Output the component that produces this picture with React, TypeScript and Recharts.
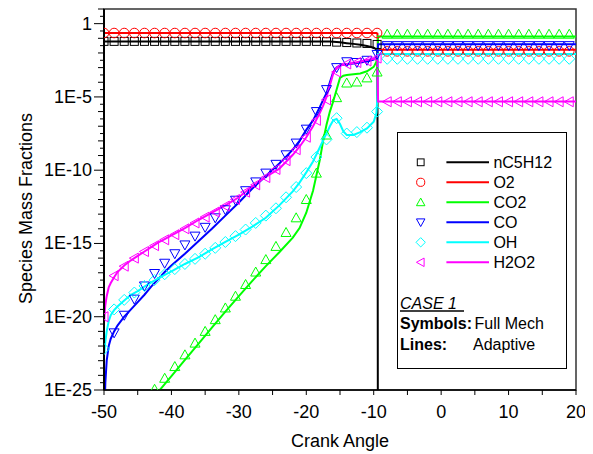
import React from 'react';
import { ComposedChart, Line, Scatter, XAxis, YAxis, ReferenceArea, Label } from 'recharts';

// ---------- data (values are log10 of mass fraction) ----------
const markerX = [-50, -48.5, -47, -45.5, -44, -42.5, -41, -39.5, -38, -36.5, -35, -33.5, -32, -30.5, -29, -27.5, -26, -24.5, -23, -21.5, -20, -18.5, -17, -15.5, -14, -12.5, -11, -9.5, -8, -6.5, -5, -3.5, -2, -0.5, 1, 2.5, 4, 5.5, 7, 8.5, 10, 11.5, 13, 14.5, 16, 17.5, 19];

const N19 = (v: number | null) => [v, v, v, v, v, v, v, v, v, v, v, v, v, v, v, v, v, v, v];

const nc5h12Marks: (number | null)[] = [-1.21, -1.21, -1.21, -1.21, -1.21, -1.21, -1.21, -1.21, -1.21, -1.21, -1.21, -1.21, -1.21, -1.21, -1.21, -1.21, -1.21, -1.21, -1.21, -1.21, -1.21, -1.21, -1.23, -1.26, -1.29, -1.32, -1.35, -1.42, ...N19(null)];
const o2Marks: (number | null)[] = [-0.64, -0.64, -0.64, -0.64, -0.64, -0.64, -0.64, -0.64, -0.64, -0.64, -0.64, -0.64, -0.64, -0.64, -0.64, -0.64, -0.64, -0.64, -0.64, -0.64, -0.64, -0.64, -0.64, -0.64, -0.64, -0.64, -0.64, -0.64, ...N19(-1.89)];
const co2Marks: (number | null)[] = [null, null, null, null, null, -24.95, -24.2, -23.4, -22.6, -21.8, -21.0, -20.2, -19.4, -18.6, -17.8, -16.95, -16.1, -15.2, -14.25, -13.25, -12.0, -10.2, -7.6, -5.05, -4.05, -3.98, -3.7, -3.3, ...N19(-0.72)];
const coMarks: (number | null)[] = [null, -21.1, -19.9, -18.8, -17.9, -17.05, -16.35, -15.7, -15.1, -14.5, -13.9, -13.25, -12.7, -12.05, -11.4, -10.8, -10.2, -9.6, -8.95, -8.15, -7.2, -6.0, -4.5, -3.0, -2.6, -2.65, -2.5, -2.1, ...N19(-1.5)];
const ohMarks: (number | null)[] = [-22.2, -19.5, -18.85, -18.35, -17.9, -17.5, -17.1, -16.75, -16.4, -16.05, -15.7, -15.3, -14.9, -14.5, -14.05, -13.6, -13.1, -12.6, -11.85, -11.15, -10.2, -9.1, -7.9, -6.45, -7.5, -7.4, -7.1, -6.0, ...N19(-2.4)];
const h2o2Marks: (number | null)[] = [-20.0, -17.2, -16.55, -16.0, -15.55, -15.15, -14.75, -14.4, -14.0, -13.6, -13.2, -12.85, -12.45, -12.0, -11.5, -11.0, -10.5, -9.95, -9.35, -8.6, -7.75, -6.6, -5.2, -3.3, -2.75, -2.65, -2.55, -2.35, ...N19(-5.33)];

const lineX = [-50, -49.9, -49.8, -49.6, -49.3, -49, -48.5, -48, -47, -46, -45, -44, -43, -42, -41, -40, -38, -36, -34, -32, -30, -28, -26, -24, -22, -21, -20, -19, -18, -17.5, -17, -16.5, -16, -15.5, -15, -14.5, -14, -13, -12, -11, -10, -9.6, -9.45, -9.35, -8, -5, 0, 5, 10, 15, 20];

const nc5h12Line: (number | null)[] = [-1.21, -1.21, -1.21, -1.21, -1.21, -1.21, -1.21, -1.21, -1.21, -1.21, -1.21, -1.21, -1.21, -1.21, -1.21, -1.21, -1.21, -1.21, -1.21, -1.21, -1.21, -1.21, -1.21, -1.21, -1.21, -1.21, -1.21, -1.21, -1.21, -1.21, -1.21, -1.22, -1.23, -1.25, -1.27, -1.3, -1.33, -1.38, -1.44, -1.52, -1.64, -1.75, -1.95, -40, null, null, null, null, null, null, null];
const o2Line: (number | null)[] = [-0.64, -0.64, -0.64, -0.64, -0.64, -0.64, -0.64, -0.64, -0.64, -0.64, -0.64, -0.64, -0.64, -0.64, -0.64, -0.64, -0.64, -0.64, -0.64, -0.64, -0.64, -0.64, -0.64, -0.64, -0.64, -0.64, -0.64, -0.64, -0.64, -0.64, -0.64, -0.64, -0.64, -0.64, -0.64, -0.64, -0.64, -0.64, -0.64, -0.64, -0.64, -0.64, -0.68, -1.78, -1.78, -1.78, -1.78, -1.78, -1.78, -1.78, -1.78];
const co2Line: (number | null)[] = [null, null, null, null, null, null, null, null, null, null, null, null, -25.7, -25.15, -24.6, -24.05, -22.95, -21.85, -20.75, -19.65, -18.6, -17.55, -16.55, -15.6, -14.6, -13.95, -12.9, -11.4, -9.3, -8.0, -6.9, -6.0, -5.3, -4.5, -3.7, -3.55, -3.5, -3.45, -3.4, -3.25, -2.95, -2.6, -2.1, -0.87, -0.87, -0.87, -0.87, -0.87, -0.87, -0.87, -0.87];
const coLine: (number | null)[] = [-40, -26, -24.5, -23.0, -22.0, -21.5, -21.0, -20.6, -20.0, -19.5, -19.0, -18.5, -17.95, -17.45, -16.95, -16.5, -15.7, -14.85, -14.0, -13.1, -12.2, -11.25, -10.4, -9.55, -8.6, -8.0, -7.25, -6.6, -5.7, -5.2, -4.75, -4.0, -3.3, -3.0, -2.85, -2.8, -2.78, -2.72, -2.65, -2.58, -2.45, -2.3, -2.0, -1.4, -1.4, -1.4, -1.4, -1.4, -1.4, -1.4, -1.4];
const ohLine: (number | null)[] = [-22.6, -22.2, -21.7, -21.0, -20.3, -19.9, -19.55, -19.3, -18.9, -18.5, -18.25, -17.95, -17.65, -17.4, -17.15, -16.9, -16.4, -15.95, -15.4, -14.9, -14.4, -13.85, -13.25, -12.4, -11.45, -10.85, -10.15, -9.4, -8.45, -7.95, -7.5, -7.0, -6.6, -6.5, -6.85, -7.35, -7.6, -7.6, -7.4, -7.15, -6.7, -6.1, -5.0, -2.07, -2.07, -2.07, -2.07, -2.07, -2.07, -2.07, -2.07];
const h2o2Line: (number | null)[] = [-20.5, -19.7, -19.2, -18.6, -18.0, -17.7, -17.3, -16.95, -16.5, -16.15, -15.85, -15.55, -15.25, -14.95, -14.7, -14.45, -13.95, -13.4, -12.9, -12.4, -11.85, -11.1, -10.45, -9.9, -8.95, -8.4, -7.75, -7.0, -6.1, -5.6, -5.0, -4.2, -3.4, -3.0, -2.85, -2.8, -2.75, -2.68, -2.58, -2.48, -2.4, -2.33, -2.3, -5.31, -5.31, -5.31, -5.31, -5.31, -5.31, -5.31, -5.31];

const speciesNames = ['nC5H12', 'O2', 'CO2', 'CO', 'OH', 'H2O2'];
const speciesColors = ['#000000', '#ff0000', '#00ff00', '#0000ff', '#00ffff', '#ff00ff'];
const speciesSymbols = ['square', 'circle', 'up', 'down', 'diamond', 'left'];
const markSets = [nc5h12Marks, o2Marks, co2Marks, coMarks, ohMarks, h2o2Marks];
const lineSets = [nc5h12Line, o2Line, co2Line, coLine, ohLine, h2o2Line];

const xTicks = [-50, -45, -40, -35, -30, -25, -20, -15, -10, -5, 0, 5, 10, 15, 20];
const xLabelTicks = [-50, -40, -30, -20, -10, 0, 10, 20];
const yMajorExps = [-25, -20, -15, -10, -5, 0];

// ---------- layout ----------
const W = 585;
const H = 446;
const PLOT_LEFT = 96;
const PLOT_BOTTOM = 382;
const FONT = '"Liberation Sans", Arial, Helvetica, sans-serif';

const yTickExps: number[] = [];
for (let e = -25; e <= 1.001; e += 0.5) yTickExps.push(Math.round(e * 2) / 2);
const yTicks = yTickExps.map((e) => Math.pow(10, e));

const scatterData = (logs: (number | null)[]) =>
  markerX
    .map((x, i) => (logs[i] == null ? null : { x, y: Math.pow(10, logs[i] as number) }))
    .filter((d) => d !== null) as { x: number; y: number }[];

const lineData = (logs: (number | null)[]) =>
  lineX.map((x, i) => ({ x, y: logs[i] == null ? null : Math.pow(10, logs[i] as number) }));

function Symbol({ cx, cy, kind, color, s = 1 }: { cx: number; cy: number; kind: string; color: string; s?: number }) {
  const common = { fill: 'none', stroke: color, strokeWidth: 1 };
  if (cx == null || cy == null || isNaN(cx) || isNaN(cy)) return null;
  switch (kind) {
    case 'square':
      return <rect x={cx - 4 * s} y={cy - 4 * s} width={8 * s} height={8 * s} {...common} />;
    case 'circle':
      return <circle cx={cx} cy={cy} r={4.8 * s} {...common} />;
    case 'up':
      return <polygon points={`${cx},${cy - 5 * s} ${cx - 5 * s},${cy + 4 * s} ${cx + 5 * s},${cy + 4 * s}`} {...common} />;
    case 'down':
      return <polygon points={`${cx},${cy + 5 * s} ${cx - 5 * s},${cy - 4 * s} ${cx + 5 * s},${cy - 4 * s}`} {...common} />;
    case 'diamond':
      return <polygon points={`${cx},${cy - 5.5 * s} ${cx + 5.5 * s},${cy} ${cx},${cy + 5.5 * s} ${cx - 5.5 * s},${cy}`} {...common} />;
    case 'left':
      return <polygon points={`${cx - 5 * s},${cy} ${cx + 4 * s},${cy - 5 * s} ${cx + 4 * s},${cy + 5 * s}`} {...common} />;
    default:
      return null;
  }
}

const YTick = (props: any) => {
  const { y, payload } = props;
  const e = Math.log10(payload.value);
  const r = Math.round(e);
  const isDecade = Math.abs(e - r) < 1e-6;
  const isMajor = isDecade && yMajorExps.includes(r);
  const len = isMajor ? 10 : isDecade ? 6 : 4;
  const label = r === 0 ? '1' : `1E${r}`;
  return (
    <g>
      <line x1={PLOT_LEFT - len} x2={PLOT_LEFT} y1={y} y2={y} stroke="#000" strokeWidth={1} />
      {isMajor && (
        <text x={PLOT_LEFT - 12} y={y} textAnchor="end" dominantBaseline="central" fontSize={18} fontFamily={FONT} fill="#000">
          {label}
        </text>
      )}
    </g>
  );
};

const XTick = (props: any) => {
  const { x, payload } = props;
  const v = payload.value;
  const isMajor = xLabelTicks.includes(v);
  return (
    <g>
      <line x1={x} x2={x} y1={PLOT_BOTTOM} y2={PLOT_BOTTOM + 5} stroke="#000" strokeWidth={1} />
      {isMajor && (
        <text x={x} y={PLOT_BOTTOM + 28} textAnchor="middle" fontSize={18} fontFamily={FONT} fill="#000">
          {String(v)}
        </text>
      )}
    </g>
  );
};

function LegendBox() {
  const rows = speciesNames.map((name, i) => {
    const cy = 29.3 + i * 20;
    return (
      <g key={name}>
        <Symbol cx={22.7} cy={cy} kind={speciesSymbols[i]} color={speciesColors[i]} s={0.85} />
        <line x1={48.4} x2={91} y1={cy} y2={cy} stroke={speciesColors[i]} strokeWidth={2} />
        <text x={95.4} y={cy + 5.8} fontSize={16} fontFamily={FONT} fill="#000">
          {name}
        </text>
      </g>
    );
  });
  return (
    <div
      style={{
        position: 'absolute',
        left: 389,
        top: 123.5,
        width: 170,
        height: 237,
        border: '1.5px solid #000',
        boxSizing: 'border-box',
        background: '#fff',
      }}
    >
      <svg width={167} height={234} style={{ display: 'block' }}>
        {rows}
        <text x={2} y={175.5} fontSize={16} fontStyle="italic" fontFamily={FONT} fill="#000">
          CASE 1
        </text>
        <line x1={2} x2={66} y1={178} y2={178} stroke="#000" strokeWidth={1.5} />
        <text x={2} y={196} fontSize={16} fontWeight="bold" fontFamily={FONT} fill="#000">
          Symbols:
        </text>
        <text x={76.5} y={196} fontSize={16} fontFamily={FONT} fill="#000">
          Full Mech
        </text>
        <text x={2} y={216.5} fontSize={16} fontWeight="bold" fontFamily={FONT} fill="#000">
          Lines:
        </text>
        <text x={75} y={216.5} fontSize={16} fontFamily={FONT} fill="#000">
          Adaptive
        </text>
      </svg>
    </div>
  );
}

export default function App() {
  return (
    <div style={{ position: 'relative', width: W, height: H, fontFamily: FONT, background: '#fff' }}>
      <ComposedChart width={W} height={H} margin={{ top: 1, right: 17, bottom: 0, left: 0 }}>
        <XAxis
          dataKey="x"
          type="number"
          domain={[-50, 20]}
          ticks={xTicks}
          interval={0}
          allowDataOverflow
          height={64}
          tickLine={false}
          axisLine={{ stroke: '#000', strokeWidth: 1.5 }}
          tick={<XTick />}
        >
          <Label
            content={(p: any) => {
              const vb = p.viewBox || { x: 96, y: 382, width: 472 };
              return (
                <text x={vb.x + vb.width / 2} y={vb.y + 57} textAnchor="middle" fontSize={18} fontFamily={FONT} fill="#000">
                  Crank Angle
                </text>
              );
            }}
          />
        </XAxis>
        <YAxis
          dataKey="y"
          type="number"
          scale="log"
          domain={[1e-25, 10]}
          ticks={yTicks}
          interval={0}
          allowDataOverflow
          width={96}
          tickLine={false}
          axisLine={{ stroke: '#000', strokeWidth: 2 }}
          tick={<YTick />}
        >
          <Label
            content={(p: any) => {
              const vb = p.viewBox || { x: 0, y: 1, height: 381 };
              const cx = 24;
              const cy = vb.y + vb.height / 2 + 9;
              return (
                <text x={cx} y={cy} transform={`rotate(-90 ${cx} ${cy})`} textAnchor="middle" fontSize={18} fontFamily={FONT} fill="#000">
                  Species Mass Fractions
                </text>
              );
            }}
          />
        </YAxis>
        <ReferenceArea x1={-50} x2={20} y1={1e-25} y2={10} fill="none" stroke="#333" strokeWidth={1.5} ifOverflow="visible" />
        {markSets.map((m, i) => (
          <Scatter
            key={'s' + i}
            name={speciesNames[i] + ' full'}
            data={scatterData(m)}
            dataKey="y"
            isAnimationActive={false}
            shape={(p: any) => <Symbol cx={p.cx} cy={p.cy} kind={speciesSymbols[i]} color={speciesColors[i]} />}
          />
        ))}
        {lineSets.map((l, i) => (
          <Line
            key={'l' + i}
            name={speciesNames[i]}
            data={lineData(l)}
            dataKey="y"
            stroke={speciesColors[i]}
            strokeWidth={2}
            dot={false}
            activeDot={false}
            connectNulls={false}
            isAnimationActive={false}
            type="linear"
          />
        ))}
      </ComposedChart>
      <LegendBox />
    </div>
  );
}
